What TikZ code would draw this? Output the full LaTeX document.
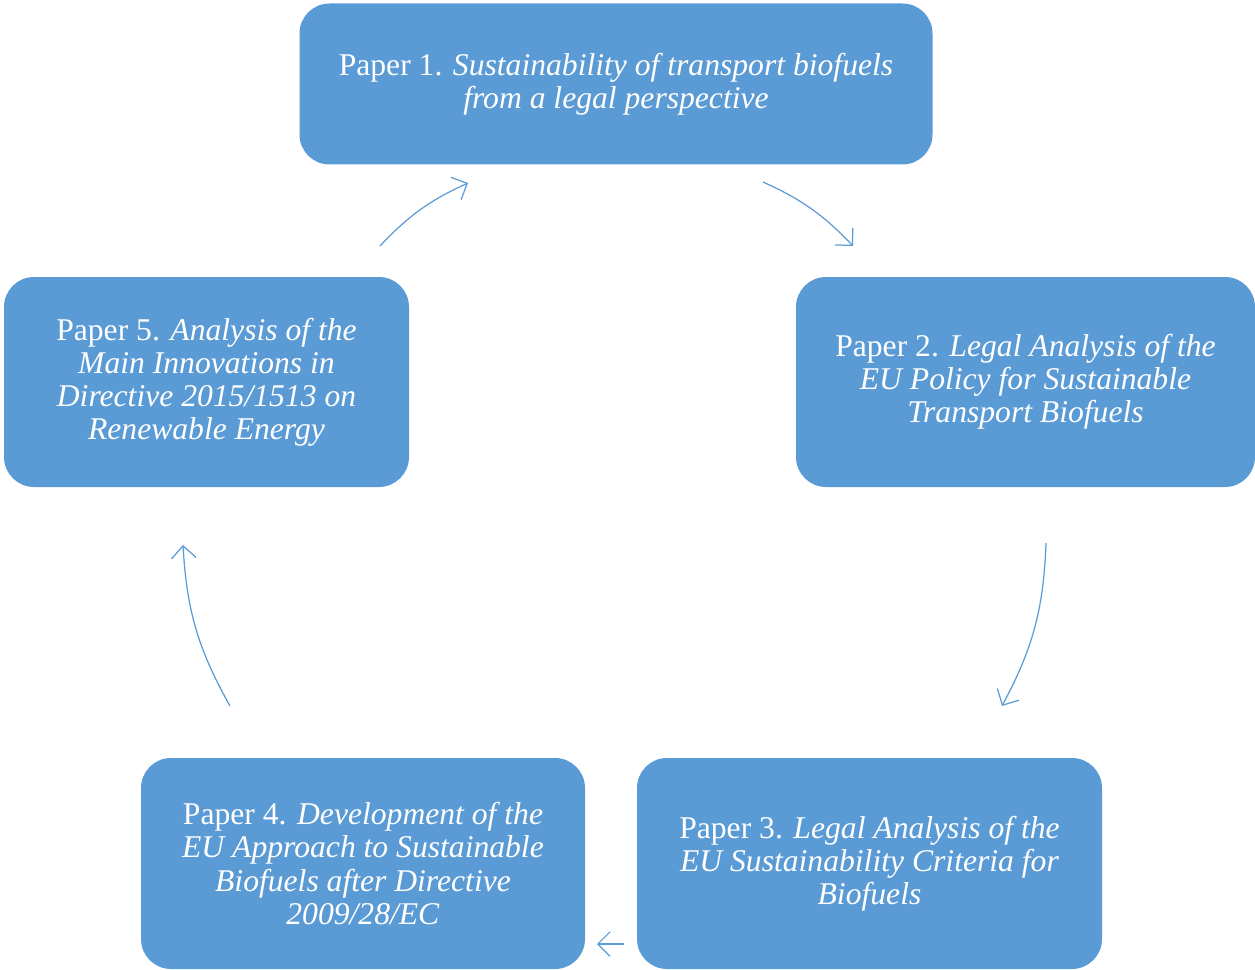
\documentclass[tikz,border=0pt]{standalone}
\usepackage{fontspec}
\setmainfont{Liberation Serif}
\usetikzlibrary{arrows.meta}
\definecolor{paperblue}{RGB}{91,155,213}

\begin{document}
\begin{tikzpicture}[
	paper/.style={rectangle, rounded corners=0.6cm, fill=paperblue, draw=none,
		text=white, align=center, inner sep=0pt,
		font=\fontsize{18}{18.8}\selectfont},
	link/.style={draw=paperblue, line width=0.7pt,
		-{Straight Barb[length=7pt,width=14pt]}}
	]
	\useasboundingbox (0,0) rectangle (25.1,-19.4);
	% boxes
	\node [paper, minimum width=12.66cm, minimum height=3.22cm] (p1) at (12.32,-1.68)
		{Paper 1. \textit{Sustainability of transport biofuels}\\ \textit{from a legal perspective}};
	\node [paper, minimum width=9.18cm, minimum height=4.2cm] (p2) at (20.51,-7.64)
		{Paper 2. \textit{Legal Analysis of the}\\ \textit{EU Policy for Sustainable}\\ \textit{Transport Biofuels}};
	\node [paper, minimum width=9.3cm, minimum height=4.22cm] (p3) at (17.39,-17.27)
		{Paper 3. \textit{Legal Analysis of the}\\ \textit{EU Sustainability Criteria for}\\ \textit{Biofuels}};
	\node [paper, minimum width=8.88cm, minimum height=4.22cm] (p4) at (7.26,-17.27)
		{Paper 4. \textit{Development of the}\\ \textit{EU Approach to Sustainable}\\ \textit{Biofuels after Directive}\\ \textit{2009/28/EC}};
	\node [paper, minimum width=8.1cm, minimum height=4.2cm] (p5) at (4.13,-7.64)
		{Paper 5. \textit{Analysis of the}\\ \textit{Main Innovations in}\\ \textit{Directive 2015/1513 on}\\ \textit{Renewable Energy}};
	% arrow ends
	\coordinate (a5s) at (7.6,-4.92);
	\coordinate (a5e) at (9.36,-3.66);
	\coordinate (a1s) at (15.26,-3.64);
	\coordinate (a1e) at (17.06,-4.92);
	\coordinate (a2s) at (20.92,-10.86);
	\coordinate (a2e) at (20.04,-14.12);
	\coordinate (a3s) at (12.48,-18.88);
	\coordinate (a3e) at (11.94,-18.88);
	\coordinate (a4s) at (4.6,-14.12);
	\coordinate (a4e) at (3.66,-10.9);
	% arrows
	\draw [link] (a1s) to[bend left=11] (a1e);
	\draw [link] (a2s) to[bend left=13] (a2e);
	\draw [link] (a3s) -- (a3e);
	\draw [link] (a4s) to[bend left=13] (a4e);
	\draw [link] (a5s) to[bend left=11] (a5e);
\end{tikzpicture}
\end{document}
